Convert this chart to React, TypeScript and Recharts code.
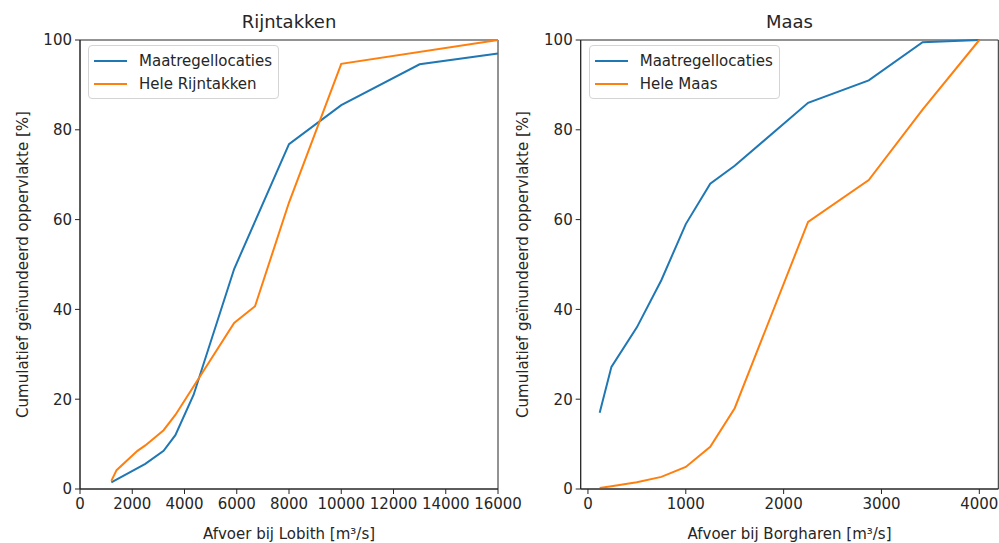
import { Legend, Line, LineChart, ReferenceArea, XAxis, YAxis } from 'recharts';

const FONT = '"DejaVu Sans", sans-serif';
const BLUE = '#1f77b4';
const ORANGE = '#ff7f0e';
const INK = '#262626';

// Rijntakken (afvoer bij Lobith)
const rijnMaatX = [1200, 2500, 3200, 3650, 4350, 5900, 8000, 10000, 13000, 16000];
const rijnMaatY = [1.5, 5.6, 8.5, 12, 21, 49, 76.8, 85.5, 94.6, 97];
const rijnHeleX = [1200, 1400, 2200, 2500, 3200, 3650, 5900, 6700, 8000, 10000, 16000];
const rijnHeleY = [1.8, 4.2, 8.5, 9.7, 13.1, 16.5, 37, 40.7, 63.8, 94.7, 100];
const rijnTicks = [0, 2000, 4000, 6000, 8000, 10000, 12000, 14000, 16000];

// Maas (afvoer bij Borgharen)
const maasX = [120, 240, 500, 750, 1000, 1250, 1500, 2250, 2870, 3420, 4000];
const maasMaatY = [17, 27.2, 36, 46.5, 59, 68, 72, 86, 91, 99.5, 100];
const maasHeleY = [0.2, 0.6, 1.5, 2.7, 4.9, 9.4, 18, 59.5, 68.8, 84.5, 100];
const maasTicks = [0, 1000, 2000, 3000, 4000];

const yTicks = [0, 20, 40, 60, 80, 100];
const yLabel = 'Cumulatief geïnundeerd oppervlakte [%]';

const zip = (xs: number[], ys: number[]) => xs.map((x, i) => ({ x, y: ys[i] }));

type Series = { name: string; color: string; data: { x: number; y: number }[] };

function LegendBox({ series }: { series: Series[] }) {
  return (
    <div
      style={{
        display: 'inline-block',
        background: 'rgba(255,255,255,0.8)',
        border: '1px solid #d4d4d4',
        borderRadius: 4,
        padding: '3px 6px 3px 5px',
        fontFamily: FONT,
        fontSize: 15,
        color: INK,
      }}
    >
      {series.map((s) => (
        <div key={s.name} style={{ display: 'flex', alignItems: 'center', height: 23 }}>
          <svg width={33} height={4}>
            <line x1={0} y1={2} x2={33} y2={2} stroke={s.color} strokeWidth={2} />
          </svg>
          <span style={{ marginLeft: 12, whiteSpace: 'nowrap' }}>{s.name}</span>
        </div>
      ))}
    </div>
  );
}

type PanelProps = {
  left: number;
  width: number;
  yAxisWidth: number;
  marginRight: number;
  plotRight: number;
  title: string;
  xLabel: string;
  domain: [number, number];
  ticks: number[];
  series: Series[];
  legendLeft: number;
};

function Panel(p: PanelProps) {
  return (
    <div style={{ position: 'absolute', left: p.left, top: 0 }}>
      <LineChart
        width={p.width}
        height={543}
        margin={{ top: 40, right: p.marginRight, bottom: 0, left: 0 }}
        style={{ overflow: 'visible' }}
      >
        <XAxis
          dataKey="x"
          type="number"
          domain={p.domain}
          ticks={p.ticks}
          interval={0}
          height={54}
          tickSize={5}
          tickMargin={4}
          tick={{ fontSize: 15, fill: INK, fontFamily: FONT }}
          tickLine={{ stroke: INK }}
          axisLine={{ stroke: INK }}
          allowDuplicatedCategory={false}
          label={{ value: p.xLabel, position: 'insideBottom', offset: 4, fontSize: 15, fill: INK, fontFamily: FONT }}
        />
        <YAxis
          type="number"
          domain={[0, 100]}
          ticks={yTicks}
          interval={0}
          width={p.yAxisWidth}
          tickSize={5}
          tickMargin={3}
          tick={{ fontSize: 15, fill: INK, fontFamily: FONT }}
          tickLine={{ stroke: INK }}
          axisLine={{ stroke: INK }}
        />
        <ReferenceArea
          x1={p.domain[0]}
          x2={p.domain[1]}
          y1={0}
          y2={100}
          fill="none"
          stroke={INK}
          strokeWidth={1}
        />
        {p.series.map((s) => (
          <Line
            key={s.name}
            data={s.data}
            dataKey="y"
            name={s.name}
            type="linear"
            stroke={s.color}
            strokeWidth={2}
            dot={false}
            activeDot={false}
            isAnimationActive={false}
          />
        ))}
        <Legend
          layout="horizontal"
          verticalAlign="middle"
          align="center"
          wrapperStyle={{ top: 45, left: p.legendLeft, width: 'auto' }}
          content={() => <LegendBox series={p.series} />}
        />
        <text
          x={(p.yAxisWidth + p.plotRight) / 2}
          y={28}
          textAnchor="middle"
          fontSize={18}
          fill={INK}
          fontFamily={FONT}
        >
          {p.title}
        </text>
        <text
          transform="translate(23, 264.5) rotate(-90)"
          textAnchor="middle"
          dominantBaseline="central"
          fontSize={15}
          fill={INK}
          fontFamily={FONT}
        >
          {yLabel}
        </text>
      </LineChart>
    </div>
  );
}

export default function App() {
  return (
    <div style={{ position: 'absolute', left: 0, top: 0, width: 999, height: 543, background: '#fff' }}>
      <Panel
        left={0}
        width={540}
        yAxisWidth={80}
        marginRight={42}
        plotRight={498}
        title="Rijntakken"
        xLabel="Afvoer bij Lobith [m³/s]"
        domain={[0, 16000]}
        ticks={rijnTicks}
        legendLeft={88}
        series={[
          { name: 'Maatregellocaties', color: BLUE, data: zip(rijnMaatX, rijnMaatY) },
          { name: 'Hele Rijntakken', color: ORANGE, data: zip(rijnHeleX, rijnHeleY) },
        ]}
      />
      <Panel
        left={500}
        width={499}
        yAxisWidth={80.7}
        marginRight={0.7}
        plotRight={498.3}
        title="Maas"
        xLabel="Afvoer bij Borgharen [m³/s]"
        domain={[-74, 4194]}
        ticks={maasTicks}
        legendLeft={88.7}
        series={[
          { name: 'Maatregellocaties', color: BLUE, data: zip(maasX, maasMaatY) },
          { name: 'Hele Maas', color: ORANGE, data: zip(maasX, maasHeleY) },
        ]}
      />
    </div>
  );
}
